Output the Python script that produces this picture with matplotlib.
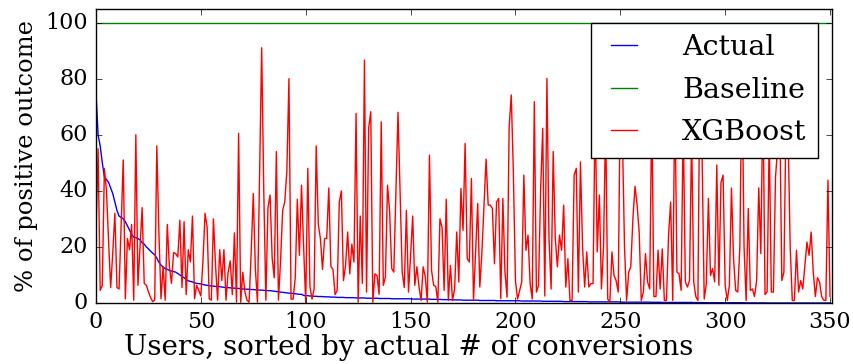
import numpy as np
import matplotlib
matplotlib.use('Agg')
import matplotlib.pyplot as plt

plt.style.use('classic')
plt.rcParams['font.family'] = 'serif'
plt.rcParams['font.serif'] = ['DejaVu Serif']

# % of positive outcome per user, users sorted by actual conversions
actual = [
    75, 60, 56, 50, 45, 44, 43, 41, 39, 36,
    33, 31, 30.5, 30, 29, 27.5, 26, 24.5, 23.5, 23.3,
    23, 22.5, 21.5, 21, 20, 19.3, 18.5, 17.8, 17.2, 16,
    14.5, 13.5, 12.8, 12.3, 12, 11.6, 11.4, 11.2, 11, 10.5,
    10, 9.5, 9, 8.4, 7.9, 7.7, 7.5, 7.2, 7, 6.9,
    6.8, 6.6, 6.4, 6.3, 6.2, 6.1, 6, 5.9, 5.9, 5.8,
    5.7, 5.6, 5.5, 5.5, 5.4, 5.3, 5.3, 5.2, 5.2, 5.1,
    5, 5, 4.9, 4.9, 4.8, 4.8, 4.7, 4.7, 4.6, 4.6,
    4.5, 4.5, 4.4, 4.4, 4.3, 4.2, 4.1, 4, 3.9, 3.8,
    3.7, 3.6, 3.5, 3.5, 3.4, 3.3, 3.2, 3.1, 3.1, 2.7,
    2.6, 2.6, 2.5, 2.5, 2.4, 2.4, 2.3, 2.3, 2.3, 2.2,
    2.2, 2.2, 2.1, 2.1, 2.1, 2.0, 2.0, 2.0, 2.0, 1.9,
    1.9, 1.9, 1.9, 1.9, 1.8, 1.8, 1.8, 1.8, 1.8, 1.7,
    1.7, 1.7, 1.7, 1.7, 1.7, 1.6, 1.6, 1.6, 1.6, 1.6,
    1.6, 1.5, 1.5, 1.5, 1.5, 1.5, 1.5, 1.5, 1.5, 1.5,
    1.5, 1.4, 1.4, 1.4, 1.4, 1.4, 1.4, 1.4, 1.4, 1.4,
    1.3, 1.3, 1.3, 1.3, 1.3, 1.2, 1.2, 1.2, 1.2, 1.2,
    1.1, 1.1, 1.1, 1.1, 1.1, 1.0, 1.0, 1.0, 1.0, 1.0,
    1.0, 1.0, 1.0, 0.9, 0.9, 0.9, 0.9, 0.9, 0.9, 0.9,
    0.9, 0.8, 0.8, 0.8, 0.8, 0.8, 0.8, 0.8, 0.8, 0.8,
    0.8, 0.8, 0.8, 0.7, 0.7, 0.7, 0.7, 0.7, 0.7, 0.7,
    0.7, 0.7, 0.7, 0.6, 0.6, 0.6, 0.6, 0.6, 0.6, 0.6,
    0.6, 0.6, 0.6, 0.5, 0.5, 0.5, 0.5, 0.5, 0.5, 0.5,
    0.5, 0.5, 0.5, 0.5, 0.5, 0.4, 0.4, 0.4, 0.4, 0.4,
    0.4, 0.4, 0.4, 0.4, 0.4, 0.4, 0.4, 0.4, 0.4, 0.4,
    0.3, 0.3, 0.3, 0.3, 0.3, 0.3, 0.3, 0.3, 0.3, 0.3,
    0.3, 0.3, 0.3, 0.3, 0.3, 0.25, 0.25, 0.25, 0.25, 0.25,
    0.2, 0.2, 0.2, 0.2, 0.2, 0.2, 0.2, 0.2, 0.2, 0.2,
    0.2, 0.2, 0.2, 0.2, 0.2, 0.15, 0.15, 0.15, 0.15, 0.15,
    0.1, 0.1, 0.1, 0.1, 0.1, 0.1, 0.1, 0.1, 0.1, 0.1,
    0.1, 0.1, 0.1, 0.1, 0.1, 0.1, 0.1, 0.1, 0.1, 0.1,
    0.05, 0.05, 0.05, 0.05, 0.05, 0.05, 0.05, 0.05, 0.05, 0.05,
    0, 0, 0, 0, 0, 0, 0, 0, 0, 0,
    0, 0, 0, 0, 0, 0, 0, 0, 0, 0,
    0, 0, 0, 0, 0, 0, 0, 0, 0, 0,
    0,
]

xgboost = [
    25, 55, 4.5, 6.3, 48, 40, 22, 5.5, 18, 32,
    5.5, 5, 28, 51, 1.5, 23, 19, 28, 1, 60,
    6.3, 20, 34, 7, 6.3, 4, 2, 0.5, 1, 56,
    25, 1.5, 13, 1, 28, 13, 7, 18, 17.6, 16.4,
    29.5, 5.5, 29, 3, 19, 14.6, 31, 1.5, 6.3, 4.5,
    2.5, 15, 32, 27, 1.5, 1, 30, 13.4, 1, 19,
    8, 19, 1, 11, 15, 3, 25, 0.3, 60.5, 0.3,
    11, 4, 1, 0.3, 18, 39, 12, 0.3, 45, 91,
    40, 1, 34, 38.5, 16, 9, 54, 1, 15, 33,
    36, 47, 80, 1.4, 1.4, 9, 37, 17, 42, 20,
    0.2, 48, 6, 1.4, 5, 56, 28, 23, 12, 23,
    23, 41, 13, 12, 3, 4.5, 36, 40, 8, 13.4,
    25.3, 10.4, 21, 14.6, 67.6, 0.3, 31, 7, 86.6, 3.9,
    62.3, 68.2, 0.3, 10.4, 9.8, 3.1, 64.6, 6.3, 9.3, 42,
    32.7, 12.3, 11, 40, 68, 40, 11, 5.5, 33, 3.9,
    17, 31, 6.3, 12.9, 5.9, 0.9, 12.9, 9.3, 0.3, 52.7,
    11.6, 6.3, 5.9, 0.3, 30, 27, 4.5, 37, 0.9, 13.4,
    0.9, 5, 25.3, 7.5, 40.8, 25.9, 56.9, 15.8, 14.6, 44.4,
    0.9, 18, 35.5, 5.7, 18, 35, 51.3, 34.9, 34.9, 33.7,
    14, 36, 37.3, 1.5, 37.3, 11, 2.1, 62.9, 74.2, 46.8,
    8, 1.4, 4.5, 7.5, 45.6, 18.8, 24.2, 7, 1.4, 71.8,
    3.9, 6.3, 40.2, 62.3, 2.5, 80.1, 22.9, 5, 54, 22.9,
    12.9, 24.2, 18.8, 34.9, 5.7, 15.8, 0.9, 0.9, 45.6, 48,
    3.9, 50.3, 20, 5.7, 18.2, 5.7, 6.9, 6.9, 70, 18.2,
    38.5, 5, 20, 65, 1.4, 0.3, 18.2, 9.8, 8, 3.9,
    75, 60, 20, 0.9, 11, 12.9, 30, 41.6, 35, 25.3,
    0.9, 3.9, 17.6, 7.5, 5, 70, 2.3, 2.3, 18.8, 5,
    19.3, 0.9, 0.9, 24.2, 36, 0.9, 75, 11, 10.4, 4.5,
    65, 7.5, 5.7, 8, 60, 7.5, 2.3, 0.9, 90, 52,
    1.4, 6.9, 37.3, 9.8, 12.3, 7.5, 49.2, 6.3, 43, 45.6,
    6.3, 0.9, 6.3, 41, 15.8, 4.5, 3.9, 20, 85, 20,
    0.9, 33.7, 4.5, 5, 2.3, 8, 41, 17.6, 75, 3,
    4, 60, 3.9, 3.9, 45, 55, 70, 8, 11, 65,
    60, 20, 0.9, 0.9, 18.8, 3.9, 8, 5, 13.4, 21.7,
    17, 25.3, 11, 2.3, 9, 7.5, 2.3, 1, 0.9, 43.8,
    2.3,
]

baseline_level = 100
baseline = [baseline_level] * len(actual)

users = np.arange(len(actual))

fig = plt.figure(figsize=(8.54, 3.64), dpi=100)
ax = fig.add_axes([0.1124, 0.1676, 0.862, 0.809])

ax.plot(users, actual, 'b', label='Actual')
ax.plot(users, baseline, 'g', label='Baseline')
ax.plot(users, xgboost, 'r', label='XGBoost')

ax.set_xlim(0, 351)
ax.set_ylim(0, 105)
ax.set_xticks(np.arange(0, 351, 50))
ax.set_yticks(np.arange(0, 101, 20))
ax.tick_params(labelsize=16, pad=6)
ax.set_xlabel('Users, sorted by actual # of conversions', fontsize=20)
ax.xaxis.set_label_coords(0.425, -0.105)
ax.set_ylabel('% of positive outcome', fontsize=17.5)
ax.legend(loc='upper right', fontsize=20.5, handlelength=1.5,
          handletextpad=1.3, labelspacing=0.55)

fig.savefig('out.png', dpi=100)
